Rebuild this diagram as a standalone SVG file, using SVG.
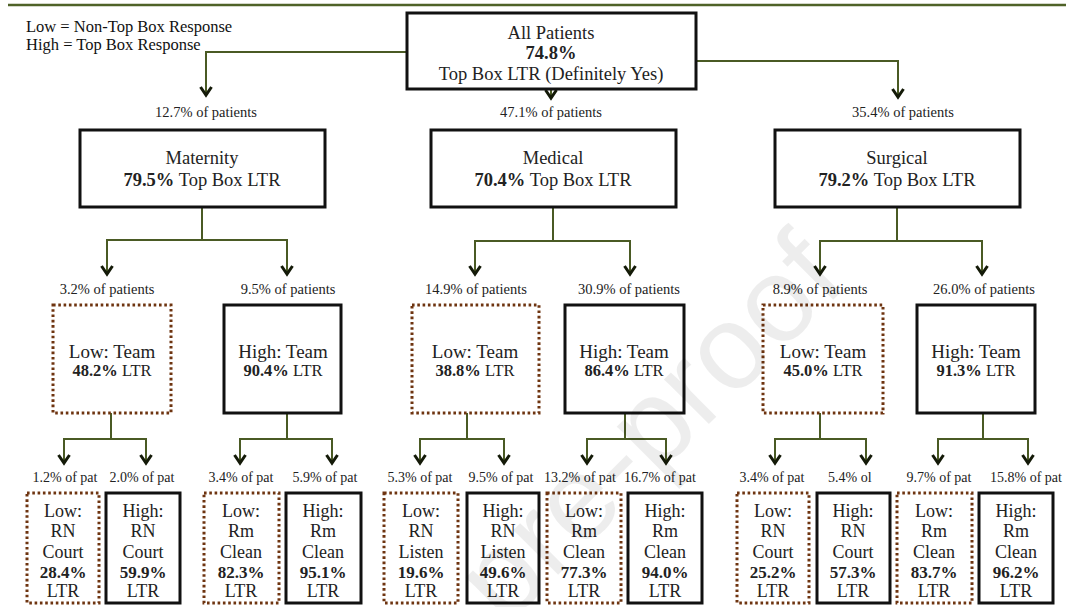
<svg xmlns="http://www.w3.org/2000/svg" width="1066" height="607" viewBox="0 0 1066 607">
<defs>
<style>
text{font-family:"Liberation Serif","Times New Roman",serif;fill:#222;}
.legend{font-size:16.5px;fill:#111;}
.pl{font-size:14.5px;text-anchor:middle;}
.bl{font-size:14px;text-anchor:middle;}
.t0{font-size:18.5px;text-anchor:middle;}
.t2{font-size:18.5px;text-anchor:middle;}
.t3a{font-size:19px;text-anchor:middle;}
.t3b{font-size:16.5px;text-anchor:middle;}
.t4{font-size:18px;text-anchor:middle;}
.t4b{font-size:17px;text-anchor:middle;font-weight:bold;}
.b{font-weight:bold;}
.solid{fill:#fff;stroke:#111;stroke-width:3;}
.dot{fill:#fff;stroke:#6e3410;stroke-width:3;stroke-dasharray:2.6 2.7;}
.con{fill:none;stroke:#4a5a24;stroke-width:2;}
.wm{font-family:"Liberation Sans",Arial,sans-serif;font-size:120px;fill:#000;fill-opacity:0.07;}
</style>
<marker id="ah" markerUnits="userSpaceOnUse" markerWidth="14" markerHeight="14" viewBox="0 0 14 14" refX="11" refY="7" orient="auto">
<path d="M3,1.5 L11,7 L3,12.5" fill="none" stroke="#141a08" stroke-width="3"/>
</marker>
</defs>
<rect width="1066" height="607" fill="#fff"/>
<line x1="8" y1="5" x2="1066" y2="5" stroke="#4f6228" stroke-width="2.5"/>
<g id="legend">
<text class="legend" x="26" y="32">Low = Non-Top Box Response</text>
<text class="legend" x="26" y="50">High = Top Box Response</text>
</g>
<g id="connectors">
<path class="con" d="M407,52 H206 V95" marker-end="url(#ah)"/>
<path class="con" d="M551,89 V98" marker-end="url(#ah)"/>
<path class="con" d="M696,61 H898 V97" marker-end="url(#ah)"/>
<path class="con" d="M202,207 V240"/>
<path class="con" d="M202,240 H107 V274" marker-end="url(#ah)"/>
<path class="con" d="M202,240 H287 V274" marker-end="url(#ah)"/>
<path class="con" d="M553,207 V241"/>
<path class="con" d="M553,241 H475 V274" marker-end="url(#ah)"/>
<path class="con" d="M553,241 H630 V274" marker-end="url(#ah)"/>
<path class="con" d="M897,207 V241"/>
<path class="con" d="M897,241 H820 V274" marker-end="url(#ah)"/>
<path class="con" d="M897,241 H982 V274" marker-end="url(#ah)"/>
<path class="con" d="M111,413 V439"/>
<path class="con" d="M111,439 H64 V463" marker-end="url(#ah)"/>
<path class="con" d="M111,439 H146 V463" marker-end="url(#ah)"/>
<path class="con" d="M287,413 V439"/>
<path class="con" d="M287,439 H240 V463" marker-end="url(#ah)"/>
<path class="con" d="M287,439 H332 V463" marker-end="url(#ah)"/>
<path class="con" d="M467,413 V439"/>
<path class="con" d="M467,439 H420 V463" marker-end="url(#ah)"/>
<path class="con" d="M467,439 H504 V463" marker-end="url(#ah)"/>
<path class="con" d="M625,413 V439"/>
<path class="con" d="M625,439 H587 V463" marker-end="url(#ah)"/>
<path class="con" d="M625,439 H666 V463" marker-end="url(#ah)"/>
<path class="con" d="M820,413 V439"/>
<path class="con" d="M820,439 H775 V463" marker-end="url(#ah)"/>
<path class="con" d="M820,439 H866 V463" marker-end="url(#ah)"/>
<path class="con" d="M983,413 V439"/>
<path class="con" d="M983,439 H938 V463" marker-end="url(#ah)"/>
<path class="con" d="M983,439 H1028 V463" marker-end="url(#ah)"/>
</g>
<g id="labels">
<text class="pl" x="206" y="117">12.7% of patients</text>
<text class="pl" x="551" y="117">47.1% of patients</text>
<text class="pl" x="903" y="117">35.4% of patients</text>
<text class="pl" x="107" y="294">3.2% of patients</text>
<text class="pl" x="288" y="294">9.5% of patients</text>
<text class="pl" x="476" y="294">14.9% of patients</text>
<text class="pl" x="629" y="294">30.9% of patients</text>
<text class="pl" x="820" y="294">8.9% of patients</text>
<text class="pl" x="984" y="294">26.0% of patients</text>
<text class="bl" x="65" y="482">1.2% of pat</text>
<text class="bl" x="142" y="482">2.0% of pat</text>
<text class="bl" x="241" y="482">3.4% of pat</text>
<text class="bl" x="325" y="482">5.9% of pat</text>
<text class="bl" x="420" y="482">5.3% of pat</text>
<text class="bl" x="501" y="482">9.5% of pat</text>
<text class="bl" x="580" y="482">13.2% of pat</text>
<text class="bl" x="660" y="482">16.7% of pat</text>
<text class="bl" x="772" y="482">3.4% of pat</text>
<text class="bl" x="828" y="482" style="text-anchor:start">5.4% ol</text>
<text class="bl" x="939" y="482">9.7% of pat</text>
<text class="bl" x="1026" y="482">15.8% of pat</text>
</g>
<g id="all-patients">
<rect class="solid" x="407" y="13" width="289" height="76"/>
<text class="t0" x="551" y="39">All Patients</text>
<text class="t0 b" x="551" y="59">74.8%</text>
<text class="t0" x="551" y="80">Top Box LTR (Definitely Yes)</text>
</g>
<g id="maternity">
<rect class="solid" x="80" y="130" width="245" height="77"/>
<text class="t2" x="202" y="164">Maternity</text>
<text class="t2" x="202" y="186"><tspan class="b">79.5%</tspan> Top Box LTR</text>
</g>
<g id="medical">
<rect class="solid" x="431" y="130" width="245" height="77"/>
<text class="t2" x="553" y="164">Medical</text>
<text class="t2" x="553" y="186"><tspan class="b">70.4%</tspan> Top Box LTR</text>
</g>
<g id="surgical">
<rect class="solid" x="775" y="130" width="245" height="77"/>
<text class="t2" x="897" y="164">Surgical</text>
<text class="t2" x="897" y="186"><tspan class="b">79.2%</tspan> Top Box LTR</text>
</g>
<g id="mat-low-team">
<rect class="dot" x="53" y="305" width="118" height="108"/>
<text class="t3a" x="112" y="358">Low:  Team</text>
<text class="t3b" x="112" y="376"><tspan class="b">48.2%</tspan> LTR</text>
</g>
<g id="mat-high-team">
<rect class="solid" x="224" y="305" width="117" height="108"/>
<text class="t3a" x="283" y="358">High: Team</text>
<text class="t3b" x="283" y="376"><tspan class="b">90.4%</tspan> LTR</text>
</g>
<g id="med-low-team">
<rect class="dot" x="412" y="305" width="127" height="108"/>
<text class="t3a" x="475" y="358">Low: Team</text>
<text class="t3b" x="475" y="376"><tspan class="b">38.8%</tspan> LTR</text>
</g>
<g id="med-high-team">
<rect class="solid" x="565" y="305" width="119" height="108"/>
<text class="t3a" x="624" y="358">High: Team</text>
<text class="t3b" x="624" y="376"><tspan class="b">86.4%</tspan> LTR</text>
</g>
<g id="surg-low-team">
<rect class="dot" x="763" y="305" width="120" height="108"/>
<text class="t3a" x="823" y="358">Low: Team</text>
<text class="t3b" x="823" y="376"><tspan class="b">45.0%</tspan> LTR</text>
</g>
<g id="surg-high-team">
<rect class="solid" x="917" y="305" width="118" height="108"/>
<text class="t3a" x="976" y="358">High: Team</text>
<text class="t3b" x="976" y="376"><tspan class="b">91.3%</tspan> LTR</text>
</g>
<g id="b1">
<rect class="dot" x="27" y="493" width="72" height="110"/>
<text class="t4" x="63" y="517">Low:</text><text class="t4" x="63" y="537">RN</text><text class="t4" x="63" y="558">Court</text><text class="t4b" x="63" y="578">28.4%</text><text class="t4" x="63" y="597">LTR</text>
</g>
<g id="b2">
<rect class="solid" x="106" y="493" width="74" height="110"/>
<text class="t4" x="143" y="517">High:</text><text class="t4" x="143" y="537">RN</text><text class="t4" x="143" y="558">Court</text><text class="t4b" x="143" y="578">59.9%</text><text class="t4" x="143" y="597">LTR</text>
</g>
<g id="b3">
<rect class="dot" x="204" y="493" width="75" height="110"/>
<text class="t4" x="241" y="517">Low:</text><text class="t4" x="241" y="537">Rm</text><text class="t4" x="241" y="558">Clean</text><text class="t4b" x="241" y="578">82.3%</text><text class="t4" x="241" y="597">LTR</text>
</g>
<g id="b4">
<rect class="solid" x="286" y="493" width="75" height="110"/>
<text class="t4" x="323" y="517">High:</text><text class="t4" x="323" y="537">Rm</text><text class="t4" x="323" y="558">Clean</text><text class="t4b" x="323" y="578">95.1%</text><text class="t4" x="323" y="597">LTR</text>
</g>
<g id="b5">
<rect class="dot" x="384" y="493" width="74" height="110"/>
<text class="t4" x="421" y="517">Low:</text><text class="t4" x="421" y="537">RN</text><text class="t4" x="421" y="558">Listen</text><text class="t4b" x="421" y="578">19.6%</text><text class="t4" x="421" y="597">LTR</text>
</g>
<g id="b6">
<rect class="solid" x="467" y="493" width="72" height="110"/>
<text class="t4" x="503" y="517">High:</text><text class="t4" x="503" y="537">RN</text><text class="t4" x="503" y="558">Listen</text><text class="t4b" x="503" y="578">49.6%</text><text class="t4" x="503" y="597">LTR</text>
</g>
<g id="b7">
<rect class="dot" x="547" y="493" width="74" height="110"/>
<text class="t4" x="584" y="517">Low:</text><text class="t4" x="584" y="537">Rm</text><text class="t4" x="584" y="558">Clean</text><text class="t4b" x="584" y="578">77.3%</text><text class="t4" x="584" y="597">LTR</text>
</g>
<g id="b8">
<rect class="solid" x="628" y="493" width="74" height="110"/>
<text class="t4" x="665" y="517">High:</text><text class="t4" x="665" y="537">Rm</text><text class="t4" x="665" y="558">Clean</text><text class="t4b" x="665" y="578">94.0%</text><text class="t4" x="665" y="597">LTR</text>
</g>
<g id="b9">
<rect class="dot" x="737" y="493" width="72" height="110"/>
<text class="t4" x="773" y="517">Low:</text><text class="t4" x="773" y="537">RN</text><text class="t4" x="773" y="558">Court</text><text class="t4b" x="773" y="578">25.2%</text><text class="t4" x="773" y="597">LTR</text>
</g>
<g id="b10">
<rect class="solid" x="817" y="493" width="73" height="110"/>
<text class="t4" x="853" y="517">High:</text><text class="t4" x="853" y="537">RN</text><text class="t4" x="853" y="558">Court</text><text class="t4b" x="853" y="578">57.3%</text><text class="t4" x="853" y="597">LTR</text>
</g>
<g id="b11">
<rect class="dot" x="897" y="493" width="75" height="110"/>
<text class="t4" x="934" y="517">Low:</text><text class="t4" x="934" y="537">Rm</text><text class="t4" x="934" y="558">Clean</text><text class="t4b" x="934" y="578">83.7%</text><text class="t4" x="934" y="597">LTR</text>
</g>
<g id="b12">
<rect class="solid" x="979" y="493" width="74" height="110"/>
<text class="t4" x="1016" y="517">High:</text><text class="t4" x="1016" y="537">Rm</text><text class="t4" x="1016" y="558">Clean</text><text class="t4b" x="1016" y="578">96.2%</text><text class="t4" x="1016" y="597">LTR</text>
</g>
<text class="wm" transform="translate(505,628) rotate(-45)">pre-proof</text>
</svg>
